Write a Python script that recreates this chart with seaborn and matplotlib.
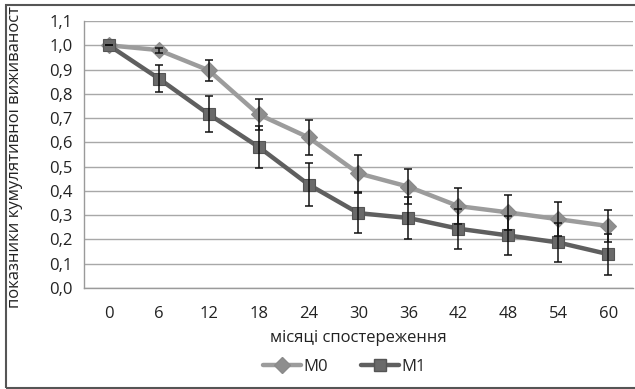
import numpy as np
import pandas as pd
import seaborn as sns
import matplotlib.pyplot as plt
from matplotlib.lines import Line2D
from matplotlib.patches import Rectangle

months = [0, 6, 12, 18, 24, 30, 36, 42, 48, 54, 60]
m0 = [1.0, 0.98, 0.897, 0.715, 0.62, 0.472, 0.417, 0.337, 0.311, 0.283, 0.255]
m0_err = [0.0, 0.01, 0.043, 0.065, 0.073, 0.077, 0.073, 0.073, 0.072, 0.071, 0.066]
m1 = [1.0, 0.863, 0.716, 0.581, 0.426, 0.308, 0.288, 0.244, 0.216, 0.187, 0.139]
m1_err = [0.0, 0.057, 0.075, 0.086, 0.09, 0.083, 0.085, 0.083, 0.081, 0.08, 0.085]

df = pd.DataFrame({
    "pos": list(range(len(months))) * 2,
    "value": m0 + m1,
    "err": m0_err + m1_err,
    "group": ["M0"] * len(months) + ["M1"] * len(months),
})

sns.set_theme(style="white")
plt.rcParams["font.family"] = ["Open Sans", "DejaVu Sans"]

colors = {"M0": "#9c9c9c", "M1": "#5f5f5f"}
mfc = {"M0": "#8e8e8e", "M1": "#6a6a6a"}
mec = {"M0": "#8a8a8a", "M1": "#555555"}
marks = {"M0": "D", "M1": "s"}
msize = {"M0": 8, "M1": 9}
fs = 12

fig = plt.figure(figsize=(6.35, 3.89), dpi=100)
ax = fig.add_axes([0.132, 0.26, 0.865, 0.686])

for g in ["M0", "M1"]:
    d = df[df.group == g]
    ax.errorbar(d.pos, d.value, yerr=d.err, fmt="none", ecolor="#111111",
                elinewidth=1.1, capsize=3, capthick=1.1, zorder=4)
    sns.lineplot(data=d, x="pos", y="value", ax=ax, color=colors[g], lw=3.2,
                 marker=marks[g], markersize=msize[g], markerfacecolor=mfc[g],
                 markeredgecolor=mec[g], markeredgewidth=0.8, zorder=3)

ax.set_xlim(-0.5, len(months) - 0.5)
ax.set_ylim(0, 1.1)
yt = np.arange(0, 1.11, 0.1)
ax.set_yticks(yt)
ax.set_yticklabels([f"{v:.1f}".replace(".", ",") for v in yt])
ax.set_xticks(range(len(months)))
ax.set_xticklabels([str(m) for m in months])
ax.set_xticks(np.arange(-0.5, len(months)), minor=True)
ax.tick_params(axis="x", which="major", length=0, pad=13, labelsize=fs, colors="#222222")
ax.tick_params(axis="x", which="minor", length=5, width=1, color="#9a9a9a", direction="out")
ax.tick_params(axis="y", length=5, width=1, color="#9a9a9a", labelsize=fs, pad=3)
ax.tick_params(axis="y", labelcolor="#222222")
ax.yaxis.grid(True, color="#a8a8a8", lw=1)
ax.set_axisbelow(True)
for s in ["top", "right"]:
    ax.spines[s].set_visible(False)
for s in ["left", "bottom"]:
    ax.spines[s].set_color("#9a9a9a")
    ax.spines[s].set_linewidth(1)

ax.set_xlabel("місяці спостереження", fontsize=fs, color="#222222", labelpad=6)
ax.set_ylabel("")
fig.text(0.024, 1 - 308 / 389, "показники кумулятивної виживаності", rotation=90,
         ha="center", va="bottom", fontsize=fs, color="#222222")

handles = [Line2D([], [], color=colors[g], lw=3.2, marker=marks[g], markersize=msize[g],
                  markerfacecolor=mfc[g], markeredgecolor=mec[g])
           for g in ["M0", "M1"]]
ax.legend(handles, ["M0", "M1"], loc="center", bbox_to_anchor=(0.542, 0.057),
          bbox_transform=fig.transFigure, ncol=2, frameon=False, fontsize=fs,
          handlelength=2.3, handletextpad=0.1, columnspacing=2.0)

fig.patches.append(Rectangle((6 / 635, 1 / 389), 1.0, 383 / 389, transform=fig.transFigure,
                             fill=False, edgecolor="#555555", lw=1.5, zorder=10))

fig.savefig("out.png", dpi=100)
